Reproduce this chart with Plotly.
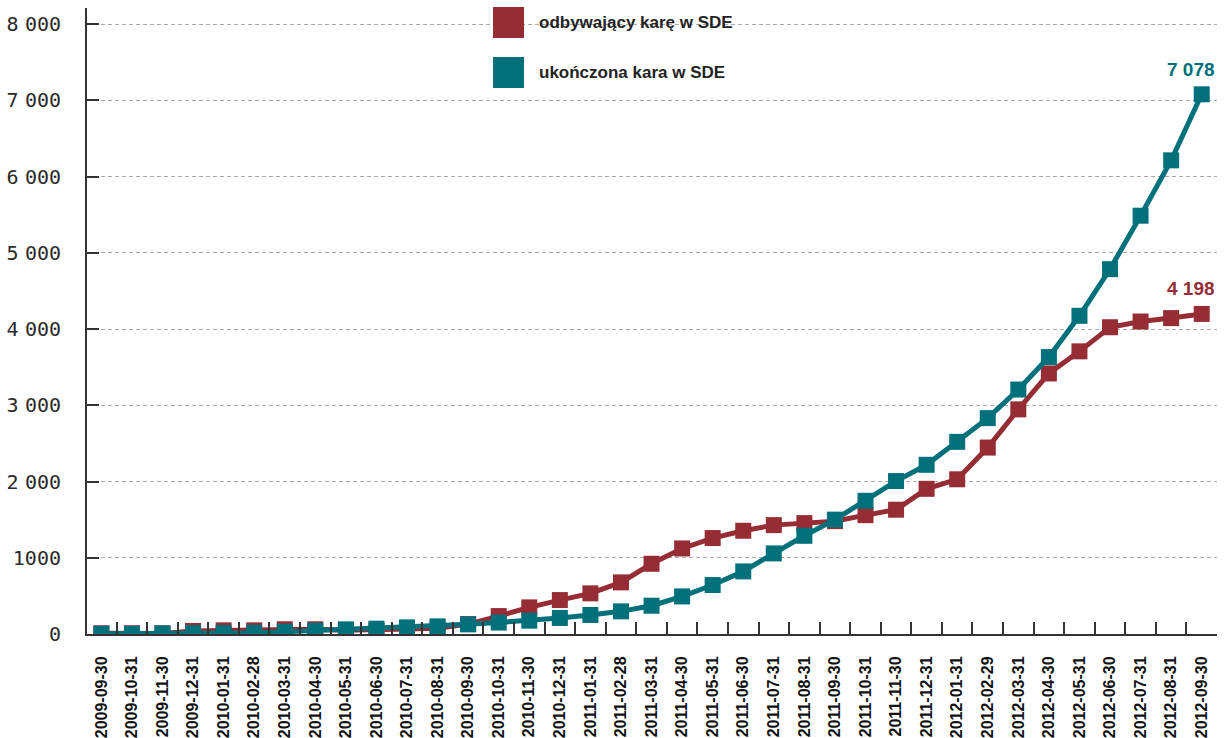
import plotly.graph_objects as go

# Month-end reporting dates
dates = [
    "2009-09-30", "2009-10-31", "2009-11-30", "2009-12-31",
    "2010-01-31", "2010-02-28", "2010-03-31", "2010-04-30",
    "2010-05-31", "2010-06-30", "2010-07-31", "2010-08-31",
    "2010-09-30", "2010-10-31", "2010-11-30", "2010-12-31",
    "2011-01-31", "2011-02-28", "2011-03-31", "2011-04-30",
    "2011-05-31", "2011-06-30", "2011-07-31", "2011-08-31",
    "2011-09-30", "2011-10-31", "2011-11-30", "2011-12-31",
    "2012-01-31", "2012-02-29", "2012-03-31", "2012-04-30",
    "2012-05-31", "2012-06-30", "2012-07-31", "2012-08-31",
    "2012-09-30",
]

# Persons currently serving a sentence under electronic monitoring
serving = [
    10, 10, 8, 40, 48, 48, 62, 62, 50, 50, 66, 75,
    130, 235, 349, 445, 533, 677, 921, 1122, 1258, 1354, 1428, 1454,
    1480, 1559, 1630, 1904, 2029, 2445, 2946, 3417, 3707, 4023, 4098, 4143,
    4198,
]

# Persons who completed the sentence under electronic monitoring
completed = [
    3, 3, 9, 12, 12, 17, 30, 44, 61, 70, 87, 100,
    127, 150, 175, 210, 249, 297, 371, 493, 642, 821, 1057, 1288,
    1500, 1747, 2006, 2219, 2520, 2831, 3206, 3632, 4173, 4785, 5486, 6212,
    7078,
]

series_names = ["odbywający karę w SDE", "ukończona kara w SDE"]

# thousands separated by a narrow gap taken from a proportional font
GAP = "<span style='font-family:DejaVu Sans'> </span>"
y_tickvals = [0, 1000, 2000, 3000, 4000, 5000, 6000, 7000, 8000]
y_ticktext = ["0", "1000"] + [f"{v // 1000}{GAP}000" for v in y_tickvals[2:]]

RED = "#962c34"
TEAL = "#00707b"
AXIS = "#333333"
SANS = "Liberation Sans, Arial, sans-serif"

# plot-area geometry in pixels (used for the hand-built legend)
L, R, T, B = 87, 10, 8, 104
W, H = 1227, 738
PW, PH = W - L - R, H - T - B


def px_x(p):
    return (p - L) / PW


def px_y(p):
    return (H - B - p) / PH


fig = go.Figure()

for name, values, color in [(series_names[0], serving, RED),
                            (series_names[1], completed, TEAL)]:
    fig.add_trace(go.Scatter(
        x=dates, y=values, name=name, mode="lines+markers",
        line=dict(color=color, width=5),
        marker=dict(symbol="square", size=16, color=color),
        showlegend=False,
    ))
    fig.add_annotation(
        x=dates[-1], y=values[-1], text=f"{values[-1]:,}".replace(",", " "),
        showarrow=False, xanchor="right", yanchor="middle",
        xshift=15, yshift=25,
        font=dict(family=SANS, size=19, color=color, weight="bold"),
    )

# legend: coloured squares with labels
for (top, bottom), name, color in [((7, 38), series_names[0], RED),
                                   ((57, 88), series_names[1], TEAL)]:
    fig.add_shape(type="rect", xref="paper", yref="paper",
                  x0=px_x(493), x1=px_x(524), y0=px_y(bottom), y1=px_y(top),
                  fillcolor=color, line=dict(width=0), layer="above")
    fig.add_annotation(
        xref="paper", yref="paper", x=px_x(537), y=px_y((top + bottom) / 2),
        text=name, showarrow=False, xanchor="left", yanchor="middle",
        font=dict(family=SANS, size=17, color="#222222", weight="bold"),
    )

fig.update_layout(
    width=W, height=H,
    margin=dict(l=L, r=R, t=T, b=B),
    paper_bgcolor="white", plot_bgcolor="white",
    xaxis=dict(
        type="category", range=[-0.47, 36.5], automargin=False,
        tickson="boundaries", ticks="inside", ticklen=12, tickwidth=1.5,
        tickcolor=AXIS, tickangle=-90,
        showline=True, linecolor=AXIS, linewidth=2,
        showgrid=False, zeroline=False,
        ticklabelstandoff=14,
        tickfont=dict(family=SANS, size=16, color="#111111", weight="bold"),
    ),
    yaxis=dict(
        range=[0, 8210], tickvals=y_tickvals, ticktext=y_ticktext,
        automargin=False,
        ticks="inside", ticklen=12, tickwidth=1.5, tickcolor=AXIS,
        showline=True, linecolor=AXIS, linewidth=2,
        showgrid=True, gridcolor="#aaaaaa", gridwidth=1, griddash="4px,3px",
        zeroline=False,
        ticklabelstandoff=20,
        tickfont=dict(family="DejaVu Sans Mono, monospace", size=20, color="#2a2a2a"),
    ),
)

fig.write_html("out.html")
